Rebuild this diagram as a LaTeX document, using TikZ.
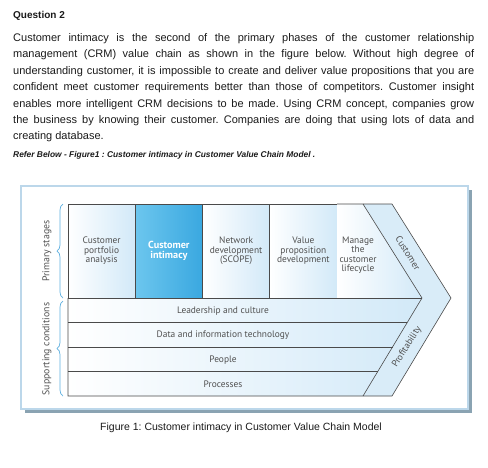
\documentclass[tikz,border=0pt]{standalone}
\usepackage{fontspec}
\setmainfont{Liberation Sans}
\newfontfamily\figfont{PT Sans}
\usepackage{tikz}
\usetikzlibrary{
        positioning,
        shapes,
        decorations.pathreplacing
    }
\frenchspacing

\definecolor{linegray}{HTML}{4A4A4A}
\definecolor{textgray}{HTML}{505050}
\definecolor{boxblue}{HTML}{D2E9F8}
\definecolor{bandblue}{HTML}{D9ECF8}
\definecolor{keyblueL}{HTML}{6CC6EE}
\definecolor{keyblueR}{HTML}{3AA8E0}
\definecolor{braceblue}{HTML}{5FB0E0}
\definecolor{framecol}{HTML}{BCD7EA}
\definecolor{shadowcol}{HTML}{8AA3B2}
\definecolor{bodytext}{HTML}{1A1A1A}

\begin{document}
\begin{tikzpicture}
[x=1pt, y=-1pt,
stagebox/.style={rectangle, draw=linegray, line width=0.6pt, minimum width=67.25pt, minimum height=94pt, inner sep=0pt, outer sep=0pt, align=center, text=textgray, font=\figfont\fontsize{9.4}{9.4}\selectfont, left color=white, right color=boxblue},
keystage/.style={stagebox, left color=keyblueL, right color=keyblueR, text=white, font=\figfont\bfseries\fontsize{10.2}{10.2}\selectfont},
rowlabel/.style={text=textgray, inner sep=0pt, font=\figfont\fontsize{9.4}{10}\selectfont},
sidelabel/.style={rotate=90, text=textgray, inner sep=0pt, font=\figfont\fontsize{9.8}{10}\selectfont},
bandlabel/.style={text=textgray, inner sep=0pt, font=\figfont\fontsize{9.4}{10}\selectfont},
bracket/.style={draw=braceblue, line width=0.7pt, decorate, decoration={brace, amplitude=6pt}},
chain/.style={draw=linegray, line width=0.6pt},
body/.style={text=bodytext, inner sep=0pt, anchor=base west},
]
\useasboundingbox (0,0) rectangle (488,467);

\node (qhead) [body, font=\bfseries\fontsize{10}{12}\selectfont] at (13,18.5) {Question 2};

\node (para) [body, text width=461pt, align=justify, font=\fontsize{11}{16.4}\selectfont] at (13,41.5)
{\tolerance=10000\hyphenpenalty=10000
Customer intimacy is the second of the primary phases of the customer relationship\linebreak
management (CRM) value chain as shown in the figure below. Without high degree of\linebreak
understanding customer, it is impossible to create and deliver value propositions that you are\linebreak
confident meet customer requirements better than those of competitors. Customer insight\linebreak
enables more intelligent CRM decisions to be made. Using CRM concept, companies grow\linebreak
the business by knowing their customer. Companies are doing that using lots of data and\linebreak
creating database.};

\node (refer) [body, font=\bfseries\itshape\fontsize{8.4}{10}\selectfont] at (13,157)
{Refer Below - Figure1 : Customer intimacy in Customer Value Chain Model .};

% frame of the figure
\fill[shadowcol] (25,190) rectangle (472,413);
\draw[framecol, fill=white, line width=1.6pt] (21,186) rectangle (468,409);

% chevron band
\fill[bandblue] (363,204) -- (392,204) -- (451,298) -- (392,396) -- (363,396) -- (422,298) -- cycle;

% supporting rows
\shade[left color=white, right color=boxblue] (68,298) -- (422,298) -- (363,396) -- (68,396) -- cycle;
\foreach \y in {322.5, 347, 371.5}
    \draw[chain] (68,\y) -- ({422-59*(\y-298)/98},\y);

\node (lead) [rowlabel] at (223,311) {Leadership and culture};
\node (data) [rowlabel] at (223,335.5) {Data and information technology};
\node (people) [rowlabel] at (223,360) {People};
\node (proc) [rowlabel] at (223,384.5) {Processes};

% primary stages
\node (cpa) [stagebox, anchor=north west] at (68,204) {Customer\\portfolio\\analysis};
\node (ci) [keystage, right=0pt of cpa] {Customer\\intimacy};
\node (nd) [stagebox, right=0pt of ci] {Network\\development\\(SCOPE)};
\node (vpd) [stagebox, right=0pt of nd] {Value\\proposition\\development};

\shade[left color=white, right color=boxblue] (vpd.north east) -- (363,204) -- (422,298) -- (vpd.south east) -- cycle;
\node (mcl) [rowlabel, align=center, font=\figfont\fontsize{9.4}{9.4}\selectfont] at (358,255) {Manage\\the\\customer\\lifecycle};

\draw[chain] (vpd.north east) -- (363,204) -- (422,298) -- (363,396);
\draw[chain] (vpd.south east) -- (422,298);
\draw[chain] (cpa.south west) -- (68,396) -- (392,396) -- (451,298) -- (392,204) -- (363,204);

\node (cust) [bandlabel, rotate=-58] at (408,253) {Customer};
\node (prof) [bandlabel, rotate=58] at (407,347) {Profitability};

% braces on the left
\draw[bracket] (63,298) -- (63,204);
\draw[bracket] (63,396) -- (63,301);
\node (ps) [sidelabel] at (47,251) {Primary stages};
\node (sc) [sidelabel] at (47,349) {Supporting conditions};

\node (caption) [text=bodytext, inner sep=0pt, anchor=base, font=\fontsize{10.5}{12}\selectfont] at (241,430.5)
{Figure 1: Customer intimacy in Customer Value Chain Model};

\end{tikzpicture}
\end{document}
